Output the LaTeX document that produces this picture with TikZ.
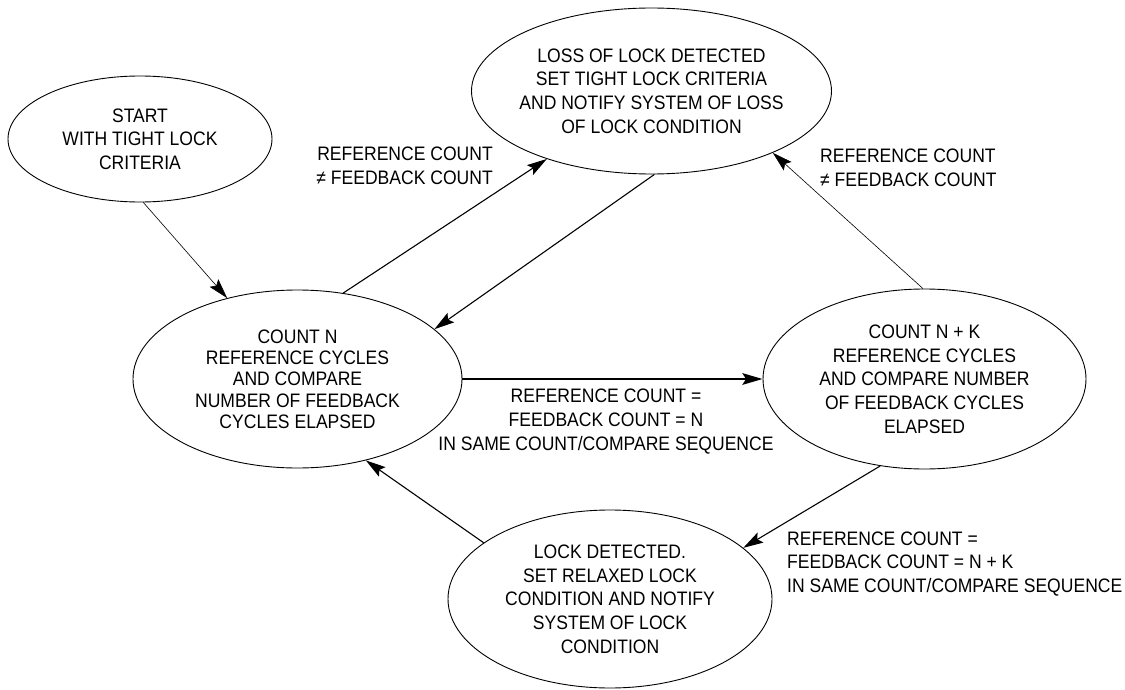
\documentclass[tikz,border=0pt]{standalone}
\usepackage{fontspec}
\setmainfont[FakeStretch=0.9]{Liberation Sans}
\usetikzlibrary{shapes.geometric,arrows.meta}
\begin{document}
\begin{tikzpicture}[x=1pt,y=-1pt,
  state/.style={ellipse,draw,line width=0.9pt,inner sep=-40pt,align=center,
    font=\fontsize{19.5}{23.7}\selectfont},
  lbl/.style={inner sep=0pt,font=\fontsize{19.5}{23.7}\selectfont},
  conn/.style={line width=1.1pt,-{Stealth[length=20pt,width=11.5pt,inset=3.5pt]}},
  thinconn/.style={conn,line width=0.6pt},
  thickconn/.style={conn,line width=2.6pt}]
\fill[white] (0,0) rectangle (1125,690);
\useasboundingbox (0,0) rectangle (1125,690);

\node[state,minimum width=264pt,minimum height=126pt] (start) at (140,139)
  {START\\WITH TIGHT LOCK\\CRITERIA};
\node[state,minimum width=360pt,minimum height=166pt] (loss) at (651.5,91)
  {LOSS OF LOCK DETECTED\\SET TIGHT LOCK CRITERIA\\AND NOTIFY SYSTEM OF LOSS\\OF LOCK CONDITION};
\node[state,minimum width=329pt,minimum height=178pt,font=\fontsize{19.5}{21.3}\selectfont] (cn) at (297.5,379)
  {COUNT N\\REFERENCE CYCLES\\AND COMPARE\\NUMBER OF FEEDBACK\\CYCLES ELAPSED};
\node[state,minimum width=323pt,minimum height=180pt] (cnk) at (924.5,379)
  {COUNT N + K\\REFERENCE CYCLES\\AND COMPARE NUMBER\\OF FEEDBACK CYCLES\\ELAPSED};
\node[state,minimum width=324pt,minimum height=178pt] (lock) at (610,599)
  {LOCK DETECTED.\\SET RELAXED LOCK\\CONDITION AND NOTIFY\\SYSTEM OF LOCK\\CONDITION};

\draw[thinconn] (start.-87) -- (cn.131);
\draw[conn] (cn.62.6) -- (loss.213.1);
\draw[conn] (loss.-88) -- (cn.20.8);
\draw[thickconn] (cn.east) -- (cnk.west);
\draw[thinconn] (cnk.91) -- (loss.-27.6);
\draw[conn] (cnk.243.2) -- (lock.21.8);
\draw[conn] (lock.156.3) -- (cn.-50);

\node[lbl,anchor=east,align=right] (lbla) at (493,165.5)
  {REFERENCE COUNT\\≠ FEEDBACK COUNT};
\node[lbl,anchor=west,align=left] (lblb) at (820,168)
  {REFERENCE COUNT\\≠ FEEDBACK COUNT};
\node[lbl,align=center] (lblc) at (606,421.5)
  {REFERENCE COUNT =\\FEEDBACK COUNT = N\\IN SAME COUNT/COMPARE SEQUENCE};
\node[lbl,anchor=west,align=left] (lbld) at (787,564)
  {REFERENCE COUNT =\\FEEDBACK COUNT = N + K\\IN SAME COUNT/COMPARE SEQUENCE};
\end{tikzpicture}
\end{document}
